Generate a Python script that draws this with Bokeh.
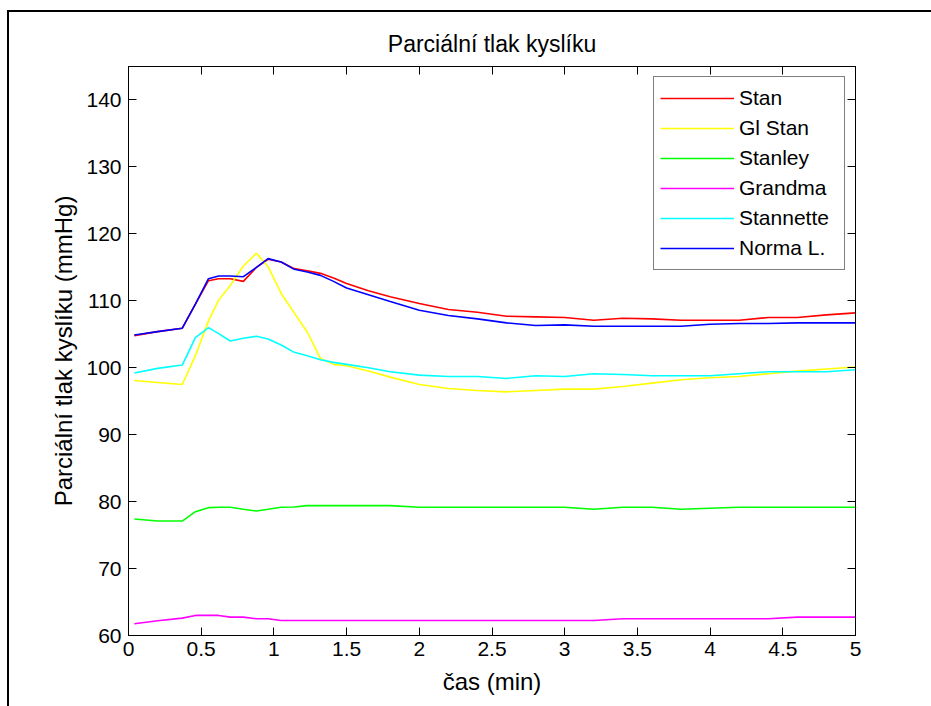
from bokeh.plotting import figure
from bokeh.models import Range1d, FixedTicker, LinearAxis, Legend, LegendItem
from bokeh.embed import file_html
from bokeh.resources import INLINE

# ---- data ----
time_min = [0.04, 0.2, 0.37, 0.46, 0.55, 0.62, 0.7, 0.79, 0.88, 0.96, 1.05, 1.14,
            1.23, 1.32, 1.41, 1.5, 1.65, 1.8, 2.0, 2.2, 2.4, 2.6, 2.8, 3.0, 3.2,
            3.4, 3.6, 3.8, 4.0, 4.2, 4.4, 4.6, 4.8, 5.0]

stan = [104.8, 105.4, 105.9, 109.5, 113.0, 113.3, 113.3, 112.9, 115.0, 116.2, 115.8, 114.8,
        114.5, 114.1, 113.4, 112.6, 111.5, 110.6, 109.6, 108.7, 108.3, 107.7, 107.6, 107.5, 107.1,
        107.4, 107.3, 107.1, 107.1, 107.1, 107.5, 107.5, 107.9, 108.2]

gl_stan = [98.1, 97.8, 97.5, 101.8, 107.0, 110.1, 112.3, 115.2, 117.1, 115.1, 111.1, 108.2,
           105.3, 101.4, 100.5, 100.3, 99.5, 98.6, 97.5, 96.9, 96.6, 96.4, 96.6, 96.8, 96.8,
           97.2, 97.7, 98.2, 98.5, 98.7, 99.1, 99.5, 99.8, 100.1]

stanley = [77.4, 77.1, 77.1, 78.5, 79.1, 79.15, 79.15, 78.85, 78.6, 78.85, 79.15, 79.2,
           79.4, 79.4, 79.4, 79.4, 79.4, 79.4, 79.15, 79.15, 79.15, 79.15, 79.15, 79.15, 78.85,
           79.15, 79.15, 78.85, 79.0, 79.15, 79.15, 79.15, 79.15, 79.15]

grandma = [61.75, 62.2, 62.6, 63.0, 63.0, 63.0, 62.75, 62.75, 62.5, 62.5, 62.25, 62.25,
           62.25, 62.25, 62.25, 62.25, 62.25, 62.25, 62.25, 62.25, 62.25, 62.25, 62.25, 62.25, 62.25,
           62.5, 62.5, 62.5, 62.5, 62.5, 62.5, 62.75, 62.75, 62.75]

stannette = [99.2, 99.9, 100.4, 104.5, 106.0, 105.1, 104.0, 104.4, 104.7, 104.3, 103.4, 102.3,
             101.8, 101.2, 100.8, 100.5, 100.0, 99.4, 98.9, 98.7, 98.7, 98.4, 98.8, 98.7, 99.1,
             99.0, 98.8, 98.8, 98.8, 99.1, 99.4, 99.4, 99.4, 99.7]

norma_l = [104.9, 105.4, 105.9, 109.5, 113.3, 113.7, 113.7, 113.6, 115.0, 116.3, 115.8, 114.7,
           114.3, 113.8, 112.9, 111.9, 110.9, 109.9, 108.6, 107.8, 107.3, 106.7, 106.3, 106.4, 106.2,
           106.2, 106.2, 106.2, 106.5, 106.6, 106.6, 106.7, 106.7, 106.7]

series_names = ["Stan", "Gl Stan", "Stanley", "Grandma", "Stannette", "Norma L."]
series_values = [stan, gl_stan, stanley, grandma, stannette, norma_l]
series_colors = ["#FF0000", "#FFFF00", "#00FF00", "#FF00FF", "#00FFFF", "#0000FF"]

x_ticks = [0, 0.5, 1, 1.5, 2, 2.5, 3, 3.5, 4, 4.5, 5]
x_tick_labels = ["0", "0.5", "1", "1.5", "2", "2.5", "3", "3.5", "4", "4.5", "5"]
y_ticks = [60, 70, 80, 90, 100, 110, 120, 130, 140]
y_tick_labels = ["60", "70", "80", "90", "100", "110", "120", "130", "140"]

title_text = "Parciální tlak kyslíku"
x_label = "čas (min)"
y_label = "Parciální tlak kyslíku (mmHg)"

FONT = "Liberation Sans"

p = figure(frame_width=727, frame_height=569,
           min_border_left=119, min_border_right=76, min_border_top=54, min_border_bottom=71,
           x_range=Range1d(0, 5), y_range=Range1d(60, 145),
           output_backend="svg", toolbar_location=None,
           background_fill_color="white", border_fill_color="white")
p.styles = {"margin-left": "7px", "margin-top": "10px",
            "border-left": "2px solid black", "border-top": "2px solid black"}

p.title.text = title_text
p.title.align = "center"
p.title.text_font = FONT
p.title.text_font_size = "23px"
p.title.text_font_style = "normal"
p.title.text_color = "black"
p.title.standoff = 20

p.grid.visible = False
p.outline_line_color = "black"
p.outline_line_width = 1

renderers = []
for vals, col in zip(series_values, series_colors):
    r = p.line(time_min, vals, line_color=col, line_width=1.6)
    renderers.append(r)


def style_axis(ax, show_labels):
    ax.axis_line_color = "black"
    ax.major_tick_line_color = "black"
    ax.major_tick_in = 8
    ax.major_tick_out = 0
    ax.minor_tick_line_color = None
    ax.major_label_text_font = FONT
    ax.major_label_text_font_size = "21px"
    ax.major_label_text_color = "black" if show_labels else None
    ax.axis_label_text_font = FONT
    ax.axis_label_text_font_size = "24px"
    ax.axis_label_text_font_style = "normal"
    ax.axis_label_text_color = "black"


xt = FixedTicker(ticks=x_ticks)
yt = FixedTicker(ticks=y_ticks)
x_over = {t: l for t, l in zip(x_ticks, x_tick_labels)}
y_over = {t: l for t, l in zip(y_ticks, y_tick_labels)}

xa = p.xaxis[0]
xa.ticker = xt
xa.major_label_overrides = x_over
xa.axis_label = x_label
xa.major_label_standoff = 6
xa.axis_label_standoff = 9
style_axis(xa, True)

ya = p.yaxis[0]
ya.ticker = yt
ya.major_label_overrides = y_over
ya.axis_label = y_label
ya.major_label_standoff = 7
ya.axis_label_standoff = 6
style_axis(ya, True)

top_ax = LinearAxis(ticker=FixedTicker(ticks=x_ticks))
style_axis(top_ax, False)
top_ax.major_label_text_font_size = "0px"
p.add_layout(top_ax, "above")

right_ax = LinearAxis(ticker=FixedTicker(ticks=y_ticks))
style_axis(right_ax, False)
right_ax.major_label_text_font_size = "0px"
p.add_layout(right_ax, "right")

items = [LegendItem(label=n, renderers=[r]) for n, r in zip(series_names, renderers)]
legend = Legend(items=items, location=(525, 365), margin=0, padding=6, spacing=0,
                label_height=30, glyph_height=30, glyph_width=74, label_standoff=5,
                label_width=99,
                label_text_font=FONT, label_text_font_size="21px", label_text_color="black",
                border_line_color="black", border_line_width=1,
                background_fill_color="white", background_fill_alpha=1.0)
p.add_layout(legend, "center")

open("out.html", "w").write(file_html(p, INLINE))
